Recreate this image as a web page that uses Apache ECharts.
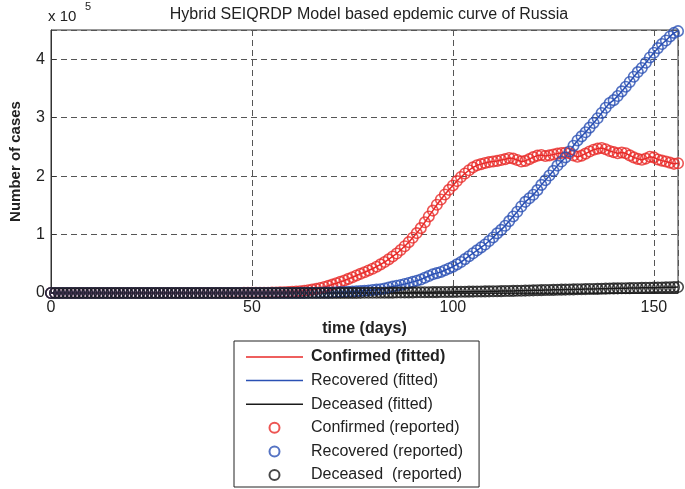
<!DOCTYPE html>
<html>
<head>
<meta charset="utf-8">
<script src="https://cdn.jsdelivr.net/npm/echarts@6/dist/echarts.min.js"></script>
<style>
  html, body { margin: 0; padding: 0; background: #fff; }
  #chart { width: 685px; height: 489px; }
</style>
</head>
<body>
<div id="chart"></div>
<script>
// reported values per day (day 0 .. 156), number of cases
var confirmed = [
  2, 2, 2, 2, 2, 2, 2, 2, 2, 2,
  2, 0, 0, 0, 0, 0, 0, 0, 0, 0,
  0, 0, 0, 0, 0, 0, 0, 0, 0, 0,
  1, 1, 1, 1, 3, 7, 7, 10, 14, 14,
  17, 20, 28, 45, 59, 63, 90, 114, 147, 199,
  253, 306, 367, 438, 495, 658, 840, 1036, 1264, 1534,
  2000, 2500, 3100, 3800, 4700, 5800, 7000, 8500, 10200, 12200,
  14400, 16600, 19000, 21500, 24200, 27000, 30000, 32800, 35600, 38600,
  41500, 45000, 49000, 53000, 57500, 62500, 67500, 73500, 80000, 87000,
  94500, 102500, 111000, 121000, 131000, 141000, 151000, 160000, 168500, 176500,
  184000, 191500, 198500, 204500, 210000, 215000, 218500, 220500, 222500, 224000,
  225000, 226000, 227500, 229000, 231000, 230000, 227500, 225000, 226000, 229000,
  232500, 235000, 236000, 234500, 235500, 237000, 238500, 239500, 240000, 239000,
  235500, 233000, 235000, 238500, 242000, 245000, 247000, 248000, 246000, 243000,
  241000, 239000, 240500, 239000, 235500, 232000, 229500, 228000, 230000, 233000,
  232000, 228500, 226500, 225000, 223000, 221000, 222000
]
var recovered = [
  0, 0, 0, 0, 0, 0, 0, 0, 0, 0,
  0, 0, 2, 2, 2, 2, 2, 2, 2, 2,
  2, 2, 2, 2, 2, 2, 2, 2, 2, 2,
  2, 2, 2, 2, 2, 2, 2, 3, 3, 3,
  3, 3, 3, 5, 8, 9, 13, 16, 16, 22,
  22, 29, 29, 29, 29, 38, 45, 49, 58, 66,
  79, 121, 191, 235, 333, 355, 398, 494, 580, 674,
  900, 1200, 1500, 1800, 2100, 2500, 2900, 3300, 3800, 4300,
  5200, 5700, 6300, 7700, 9300, 11000, 12300, 13800, 15300, 17000,
  19000, 21000, 23000, 26000, 29000, 32000, 34000, 36000, 39000, 42000,
  45000, 49000, 53000, 58000, 63000, 68000, 73000, 78000, 83000, 89000,
  95000, 102000, 108000, 115000, 123000, 131000, 139000, 148000, 156000, 162000,
  168000, 176000, 185000, 193000, 201000, 209000, 218000, 225000, 232000, 242000,
  252000, 261000, 268000, 275000, 283000, 291000, 299000, 308000, 317000, 325000,
  330000, 337000, 345000, 353000, 361000, 370000, 378000, 385000, 394000, 403000,
  411000, 419000, 426000, 432000, 439000, 445000, 448000
]
var deceased = [
  0, 0, 0, 0, 0, 0, 0, 0, 0, 0,
  0, 0, 0, 0, 0, 0, 0, 0, 0, 0,
  0, 0, 0, 0, 0, 0, 0, 0, 0, 0,
  0, 0, 0, 0, 0, 0, 0, 0, 0, 0,
  0, 0, 0, 0, 0, 0, 0, 0, 0, 0,
  0, 0, 0, 0, 1, 2, 3, 4, 8, 9,
  17, 24, 30, 34, 43, 45, 47, 58, 63, 76,
  94, 106, 130, 148, 170, 198, 232, 273, 313, 361,
  405, 456, 513, 555, 615, 681, 747, 794, 867, 972,
  1073, 1169, 1222, 1280, 1356, 1451, 1537, 1625, 1723, 1827,
  1915, 2009, 2116, 2212, 2305, 2418, 2537, 2631, 2722, 2837,
  2972, 3099, 3249, 3388, 3541, 3633, 3807, 3968, 4142, 4374,
  4555, 4693, 4849, 5037, 5215, 5384, 5520, 5725, 5859, 5971,
  6134, 6358, 6532, 6705, 6829, 6948, 7091, 7284, 7478, 7660,
  7831, 7992, 8111, 8206, 8359, 8513, 8605, 8781, 8969, 9073,
  9152, 9306, 9521, 9683, 9859, 10027, 10161
]
var xTicks = [0, 50, 100, 150]
var yTicks = [0, 1, 2, 3, 4]   // x 10^5

var font = 'Liberation Sans, Arial, sans-serif'
var red = '#e82a28'
var blue = '#2a50b4'
var black = '#1a1a1a'
var lineIcon = 'path://M0,0 L57,0 L57,1.5 L0,1.5 Z'

function pairs (arr) {
  return arr.map(function (v, i) { return [i, v] })
}

function fitted (name, arr, color) {
  return {
    name: name,
    type: 'line',
    data: pairs(arr),
    symbol: 'none',
    lineStyle: { color: color, width: 1.5 },
    itemStyle: { color: color },
    z: 2
  }
}

function reported (name, arr, color) {
  return {
    name: name,
    type: 'scatter',
    data: pairs(arr),
    symbol: 'circle',
    symbolSize: 10.5,
    itemStyle: { color: 'rgba(0,0,0,0)', borderColor: color, borderWidth: 1.6 },
    z: 3
  }
}

var option = {
  animation: false,
  backgroundColor: '#fff',
  title: {
    text: 'Hybrid SEIQRDP Model based epdemic curve of Russia',
    left: 364,
    top: 2,
    textAlign: 'center',
    textStyle: { fontFamily: font, fontSize: 16, fontWeight: 'normal', color: '#222' }
  },
  graphic: [
    { type: 'text', left: 48, top: 9, style: { text: 'x 10', font: '15px ' + font, fill: '#222' } },
    { type: 'text', left: 85, top: 1, style: { text: '5', font: '11px ' + font, fill: '#222' } }
  ],
  grid: {
    left: 48,
    right: 7,
    top: 30,
    bottom: 196,
    show: true,
    borderColor: '#333',
    borderWidth: 1,
    containLabel: false
  },
  xAxis: {
    type: 'value',
    min: 0,
    max: 156,
    interval: 50,
    name: 'time (days)',
    nameLocation: 'middle',
    nameGap: 25,
    nameTextStyle: { fontFamily: font, fontSize: 16, fontWeight: 'bold', color: '#222' },
    axisLine: { show: true, lineStyle: { color: '#333', width: 1 } },
    axisTick: { show: true, inside: true, length: 5, lineStyle: { color: '#333' } },
    axisLabel: {
      margin: 7,
      showMaxLabel: false,
      fontFamily: font,
      fontSize: 16,
      color: '#222',
      formatter: function (v) { return xTicks.indexOf(v) >= 0 ? String(v) : '' }
    },
    splitLine: { show: true, lineStyle: { color: '#555', type: [6, 4], width: 1 } }
  },
  yAxis: {
    type: 'value',
    min: 0,
    max: 450000,
    interval: 100000,
    name: 'Number of cases',
    nameLocation: 'middle',
    nameGap: 28,
    nameRotate: 90,
    nameTextStyle: { fontFamily: font, fontSize: 15, fontWeight: 'bold', color: '#222' },
    axisLine: { show: true, lineStyle: { color: '#333', width: 1 } },
    axisTick: { show: true, inside: true, length: 5, lineStyle: { color: '#333' } },
    axisLabel: {
      margin: 6,
      showMaxLabel: false,
      fontFamily: font,
      fontSize: 16,
      color: '#222',
      formatter: function (v) {
        var t = v / 100000
        return yTicks.indexOf(t) >= 0 ? String(t) : ''
      }
    },
    splitLine: { show: true, lineStyle: { color: '#555', type: [6, 4], width: 1 } }
  },
  legend: {
    orient: 'vertical',
    left: 234,
    top: 341,
    padding: [8, 16, 4, 12],
    itemWidth: 57,
    itemHeight: 10,
    itemGap: 7.6,
    borderColor: '#222',
    borderWidth: 1,
    backgroundColor: '#fff',
    textStyle: { fontFamily: font, fontSize: 16, color: '#222', lineHeight: 16, padding: [0, 0, 0, 3] },
    data: [
      { name: 'Confirmed (fitted)', icon: lineIcon, textStyle: { fontWeight: 'bold' } },
      { name: 'Recovered (fitted)', icon: lineIcon },
      { name: 'Deceased (fitted)', icon: lineIcon },
      'Confirmed (reported)',
      'Recovered (reported)',
      'Deceased  (reported)'
    ]
  },
  series: [
    fitted('Confirmed (fitted)', confirmed, red),
    fitted('Recovered (fitted)', recovered, blue),
    fitted('Deceased (fitted)', deceased, black),
    reported('Confirmed (reported)', confirmed, red),
    reported('Recovered (reported)', recovered, blue),
    reported('Deceased  (reported)', deceased, black)
  ]
}

var chart = echarts.init(document.getElementById('chart'))
chart.setOption(option)
</script>
</body>
</html>
